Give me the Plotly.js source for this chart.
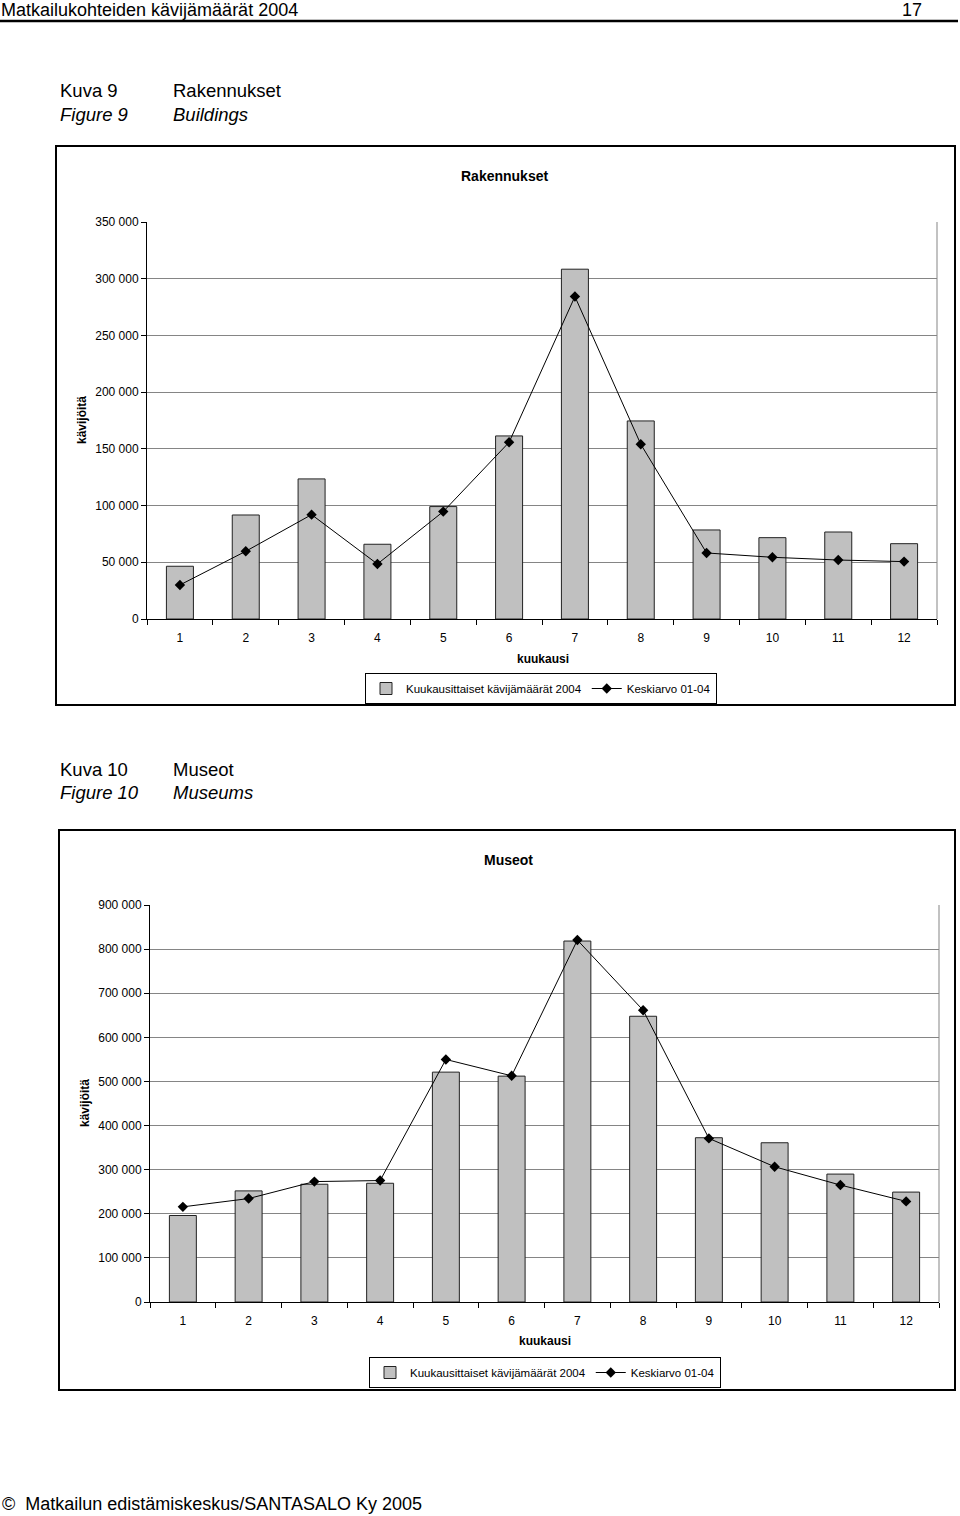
<!DOCTYPE html>
<html>
<head>
<meta charset="utf-8">
<script src="https://cdn.plot.ly/plotly-3.0.1.min.js"></script>
<style>
html,body{margin:0;padding:0;background:#fff;}
#chart{width:960px;height:1516px;}
</style>
</head>
<body>
<div id="chart"></div>
<script>
// ---- Data ----
const months = ['1','2','3','4','5','6','7','8','9','10','11','12'];
const buildings2004 = [46500, 91700, 123500, 65900, 99100, 161400, 308400, 174600, 78500, 71700, 76700, 66400];
const buildingsAvg = [30000, 59700, 92000, 48500, 94700, 155800, 284300, 154100, 58200, 54400, 52000, 50600];
const museums2004 = [196100, 251900, 267000, 269200, 521100, 512100, 818300, 647800, 372400, 361000, 290000, 249200];
const museumsAvg = [215700, 234500, 273000, 275300, 549800, 512800, 820500, 661400, 370900, 306600, 265100, 228100];
const barName = 'Kuukausittaiset kävijämäärät 2004';
const lineName = 'Keskiarvo 01-04';
const chart1Title = 'Rakennukset';
const chart2Title = 'Museot';
const xTitle = 'kuukausi';
const yTitle = 'kävijöitä';

// ---- helpers (pixel -> paper) ----
const W = 960, H = 1516;
const px = x => x / W;
const py = y => 1 - y / H;

const SANS = '"Liberation Sans", Arial, sans-serif';

const barStyle = {color: '#c0c0c0', line: {color: '#222', width: 1}};
const lineStyle = {color: '#000', width: 1};
const markerStyle = {symbol: 'diamond', size: 8, color: '#000'};

const traces = [
  {type: 'bar', x: months, y: buildings2004, name: barName, marker: barStyle,
   xaxis: 'x', yaxis: 'y', legend: 'legend'},
  {type: 'scatter', mode: 'lines+markers', x: months, y: buildingsAvg, name: lineName,
   line: lineStyle, marker: markerStyle, xaxis: 'x', yaxis: 'y', legend: 'legend'},
  {type: 'bar', x: months, y: museums2004, name: barName, marker: barStyle,
   xaxis: 'x2', yaxis: 'y2', legend: 'legend2'},
  {type: 'scatter', mode: 'lines+markers', x: months, y: museumsAvg, name: lineName,
   line: lineStyle, marker: markerStyle, xaxis: 'x2', yaxis: 'y2', legend: 'legend2'}
];

const xBase = {
  type: 'category', tickson: 'boundaries', ticks: 'outside', ticklen: 5, tickcolor: '#000',
  showline: true, linecolor: '#000', linewidth: 1, showgrid: false, zeroline: false,
  ticklabelstandoff: 8, range: [-0.5, months.length - 0.5], autorange: false,
  tickfont: {family: SANS, size: 12, color: '#000'}, fixedrange: true
};
const yBase = {
  ticks: 'outside', ticklen: 5, tickcolor: '#000', showline: true, linecolor: '#000', linewidth: 1,
  showgrid: true, gridcolor: '#858585', gridwidth: 1, zeroline: false, tickformat: ',d',
  tickfont: {family: SANS, size: 12, color: '#000'}, fixedrange: true
};

// plot-area pixel boxes
const p1 = {l: 147, r: 937, t: 222, b: 619};
const p2 = {l: 150, r: 939, t: 905, b: 1302};

const ann = (text, x, y, size, extra) => Object.assign({
  text: text, x: px(x), y: py(y), xanchor: 'left', yanchor: 'middle', showarrow: false,
  xref: 'paper', yref: 'paper', font: {family: SANS, size: size, color: '#000'}
}, extra || {});

const layout = {
  width: W, height: H,
  margin: {l: 0, r: 0, t: 0, b: 0},
  paper_bgcolor: '#fff', plot_bgcolor: '#fff',
  separators: ', ',
  bargap: 0.59,
  font: {family: SANS, size: 12, color: '#000'},
  xaxis: Object.assign({}, xBase, {domain: [px(p1.l), px(p1.r)], anchor: 'y'}),
  yaxis: Object.assign({}, yBase, {domain: [py(p1.b), py(p1.t)], anchor: 'x', range: [0, 350000], dtick: 50000}),
  xaxis2: Object.assign({}, xBase, {domain: [px(p2.l), px(p2.r)], anchor: 'y2'}),
  yaxis2: Object.assign({}, yBase, {domain: [py(p2.b), py(p2.t)], anchor: 'x2', range: [0, 900000], dtick: 100000}),
  showlegend: true,
  legend: {orientation: 'h', x: px(541), xanchor: 'center', y: py(673), yanchor: 'top',
    bordercolor: '#000', borderwidth: 1, bgcolor: '#fff', font: {family: SANS, size: 11.5, color: '#000'},
    itemwidth: 30, tracegroupgap: 0},
  legend2: {orientation: 'h', x: px(545), xanchor: 'center', y: py(1357), yanchor: 'top',
    bordercolor: '#000', borderwidth: 1, bgcolor: '#fff', font: {family: SANS, size: 11.5, color: '#000'},
    itemwidth: 30, tracegroupgap: 0},
  shapes: [
    // header rule
    {type: 'line', xref: 'paper', yref: 'paper', x0: 0, x1: px(958), y0: py(21), y1: py(21), line: {color: '#000', width: 2.5}},
    // chart frames
    {type: 'rect', xref: 'paper', yref: 'paper', x0: px(56), x1: px(955), y0: py(705), y1: py(146), line: {color: '#000', width: 2}},
    {type: 'rect', xref: 'paper', yref: 'paper', x0: px(59), x1: px(955), y0: py(1390), y1: py(830), line: {color: '#000', width: 2}},
    // right borders of plot areas
    {type: 'line', xref: 'paper', yref: 'paper', x0: px(p1.r), x1: px(p1.r), y0: py(p1.b), y1: py(p1.t), line: {color: '#858585', width: 1}},
    {type: 'line', xref: 'paper', yref: 'paper', x0: px(p2.r), x1: px(p2.r), y0: py(p2.b), y1: py(p2.t), line: {color: '#858585', width: 1}}
  ],
  annotations: [
    ann('Matkailukohteiden kävijämäärät 2004', 0, 10, 18, {borderpad: 0}),
    ann('17', 923, 10, 18, {xanchor: 'right', borderpad: 0}),
    ann('Kuva 9', 58, 90, 18.5),
    ann('<i>Figure 9</i>', 58, 114, 18.5),
    ann('Rakennukset', 171, 90, 18.5),
    ann('<i>Buildings</i>', 171, 114, 18.5),
    ann('Kuva 10', 58, 769, 18.5),
    ann('<i>Figure 10</i>', 58, 792, 18.5),
    ann('Museot', 171, 769, 18.5),
    ann('<i>Museums</i>', 171, 792, 18.5),
    // chart titles
    ann('<b>' + chart1Title + '</b>', 505, 176, 14, {xanchor: 'center'}),
    ann('<b>' + chart2Title + '</b>', 508, 860, 14, {xanchor: 'center'}),
    // axis titles
    ann('<b>' + xTitle + '</b>', 543, 659, 12, {xanchor: 'center'}),
    ann('<b>' + xTitle + '</b>', 545, 1341, 12, {xanchor: 'center'}),
    ann('<b>' + yTitle + '</b>', 82, 420, 12, {xanchor: 'center', textangle: -90}),
    ann('<b>' + yTitle + '</b>', 85, 1103, 12, {xanchor: 'center', textangle: -90}),
    // footer
    ann('©  Matkailun edistämiskeskus/SANTASALO Ky 2005', 0, 1504, 18)
  ]
};

Plotly.newPlot('chart', traces, layout, {displayModeBar: false, staticPlot: true});
</script>
</body>
</html>
